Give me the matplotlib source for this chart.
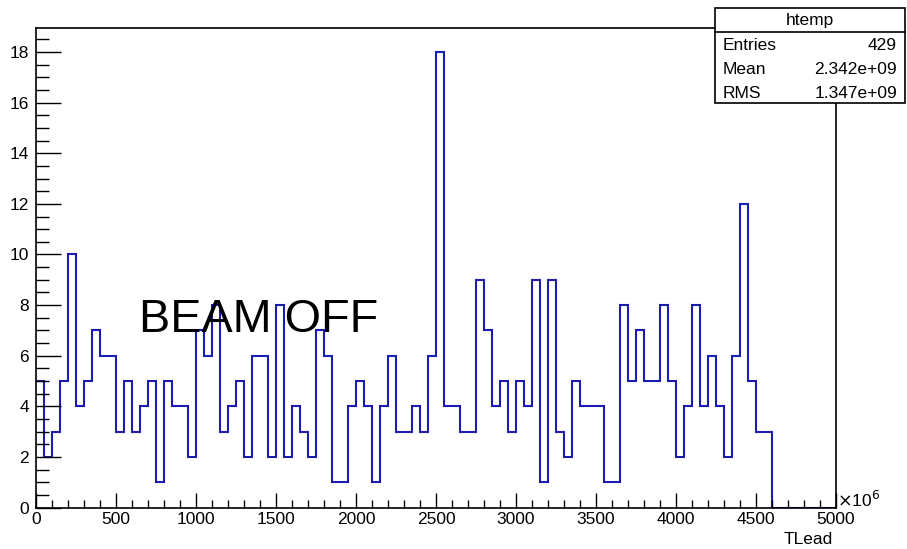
import numpy as np
import matplotlib
matplotlib.use("Agg")
import matplotlib.pyplot as plt
from matplotlib.ticker import MultipleLocator
from matplotlib.patches import Rectangle
from matplotlib.lines import Line2D

plt.rcParams['font.family'] = ['Liberation Sans', 'DejaVu Sans']

# Data: 100 bins of width 50 (x in units of 1e6), from 0 to 5000
bin_edges = np.arange(0, 5001, 50)
counts = [5, 2, 3, 5, 10, 4, 5, 7, 6, 6, 3, 5, 3, 4, 5, 1, 5, 4, 4, 2, 7, 6, 8, 3, 4,
          5, 2, 6, 6, 2, 8, 2, 4, 3, 2, 7, 6, 1, 1, 4, 5, 4, 1, 4, 6, 3, 3, 4, 3, 6,
          18, 4, 4, 3, 3, 9, 7, 4, 5, 3, 5, 4, 9, 1, 9, 3, 2, 5, 4, 4, 4, 1, 1, 8, 5,
          7, 5, 5, 8, 5, 2, 4, 8, 4, 6, 4, 2, 6, 12, 5, 3, 3, 0, 0, 0, 0, 0, 0, 0, 0]
x_ticks = [0, 500, 1000, 1500, 2000, 2500, 3000, 3500, 4000, 4500, 5000]
y_ticks = [0, 2, 4, 6, 8, 10, 12, 14, 16, 18]
stats_title = "htemp"
stats_rows = [("Entries", "429"), ("Mean", "2.342e+09"), ("RMS", "1.347e+09")]
x_title = "TLead"
annotation = "BEAM OFF"

W, H = 907, 549
fig = plt.figure(figsize=(W / 100, H / 100), dpi=100)
L, R, T, B = 36, 836, 28, 507.5
ax = fig.add_axes([L / W, (H - B) / H, (R - L) / W, (B - T) / H])

ax.stairs(counts, bin_edges, baseline=None, color='#1c1cae', linewidth=1.5)

ax.set_xlim(0, 5000)
ax.set_ylim(0, 18.95)
ax.set_xticks(x_ticks)
ax.set_yticks(y_ticks)
ax.xaxis.set_minor_locator(MultipleLocator(100))
ax.yaxis.set_minor_locator(MultipleLocator(0.5))
ax.tick_params(axis='x', which='major', direction='in', length=11, width=1.0,
               labelsize=12.5, pad=3, top=False)
ax.tick_params(axis='x', which='minor', direction='in', length=5.5, width=1.0, top=False)
ax.tick_params(axis='y', which='major', direction='in', length=18, width=1.0,
               labelsize=12.5, pad=5, right=False)
ax.tick_params(axis='y', which='minor', direction='in', length=9, width=1.0, right=False)
for s in ax.spines.values():
    s.set_linewidth(1.2)
    s.set_color('black')

fig.text(837 / W, 1 - 507 / H, r"$\times$10$^{6}$", fontsize=12.5, ha='left', va='baseline')
fig.text(833 / W, 1 - 540 / H, x_title, fontsize=12.5, ha='right', va='center')

fig.text(139 / W, 1 - 332 / H, annotation, fontsize=33.7, ha='left', va='baseline')

# Stats box
bx0, bx1, by0, by1 = 715, 905, 8, 103
box = Rectangle((bx0 / W, 1 - by1 / H), (bx1 - bx0) / W, (by1 - by0) / H,
                transform=fig.transFigure, facecolor='white', edgecolor='black',
                linewidth=1.2, zorder=10)
fig.add_artist(box)
fig.add_artist(Line2D([bx0 / W, bx1 / W], [1 - 32 / H, 1 - 32 / H],
                      transform=fig.transFigure, color='black', linewidth=1.2, zorder=11))
fig.text((bx0 + bx1) / 2 / W, 1 - 20 / H, stats_title, fontsize=12.5, ha='center',
         va='center', zorder=12)
row_y = [45, 69, 94]
for (name, val), yy in zip(stats_rows, row_y):
    fig.text(723 / W, 1 - yy / H, name, fontsize=12.5, ha='left', va='center', zorder=12)
    fig.text(897 / W, 1 - yy / H, val, fontsize=12.5, ha='right', va='center', zorder=12)

fig.savefig("out.png", dpi=100)
